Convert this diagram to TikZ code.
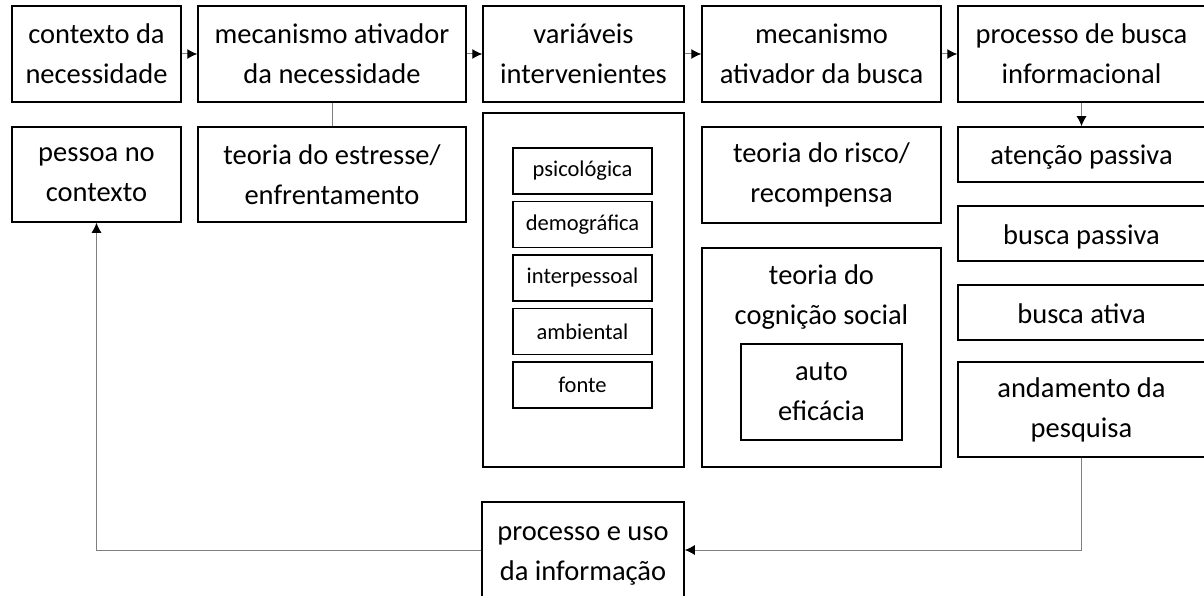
\documentclass[tikz,border=0pt]{standalone}
\usepackage{fontspec}
\setmainfont{Carlito}
\usetikzlibrary{arrows.meta,positioning}
\tikzstyle{box}=[rectangle, draw=black, line width=1.5, inner sep=2pt, align=center, font=\fontsize{28.5}{40}\selectfont]
\tikzstyle{one}=[box, text height=26pt, text depth=5pt]
\tikzstyle{sbox}=[box, minimum width=139, minimum height=46, font=\fontsize{22.5}{26}\selectfont]
\tikzstyle{txt}=[inner sep=0pt, align=center, font=\fontsize{28.5}{40}\selectfont]
\tikzstyle{l1}=[line width=1, draw=black!50]
\tikzstyle{arr}=[l1, -{Latex[length=10pt,width=10pt,black]}]
\begin{document}
\begin{tikzpicture}[x=1pt, y=-1pt]
    \useasboundingbox (0,0) rectangle (1204,596);
    % top row
    \node[box, minimum width=169, minimum height=96] at (96.5,54) (ctx) {contexto da\\necessidade};
    \node[box, minimum width=268, minimum height=96] at (332,54) (mec) {mecanismo ativador\\da necessidade};
    \node[box, minimum width=201, minimum height=96] at (583.5,54) (var) {variáveis\\intervenientes};
    \node[box, minimum width=239, minimum height=96] at (821.5,54) (mbus) {mecanismo\\ativador da busca};
    \node[box, minimum width=247, minimum height=96] at (1081.5,54) (proc) {processo de busca\\informacional};

    % second row
    \node[box, minimum width=169, minimum height=95] at (96.5,174.5) (pessoa) {pessoa no\\contexto};
    \node[box, minimum width=268, minimum height=95] at (332,174.5) (estr) {teoria do estresse/\\enfrentamento};

    \node[box, minimum width=201, minimum height=354] at (583.5,290) (varb) {};
    \node[sbox] at (582.5,171) (psi) {psicológica};
    \node[sbox] at (582.5,224.5) (dem) {demográfica};
    \node[sbox] at (582.5,278) (inter) {interpessoal};
    \node[sbox] at (582.5,331.5) (amb) {ambiental};
    \node[sbox] at (582.5,385) (fon) {fonte};

    \node[box, minimum width=239, minimum height=96] at (821.5,175) (risco) {teoria do risco/\\recompensa};
    \node[box, minimum width=239, minimum height=219] at (821.5,357.5) (cog) {};
    \node[txt, below=17pt of cog.north] (cogt) {teoria do\\cognição social};
    \node[box, minimum width=161, minimum height=96] at (821.5,392) (auto) {auto\\eficácia};

    \node[one, minimum width=247, minimum height=55] at (1081.5,154.5) (aten) {atenção passiva};
    \node[one, minimum width=247, minimum height=55] at (1081.5,233.5) (bpas) {busca passiva};
    \node[one, minimum width=247, minimum height=55] at (1081.5,312.5) (bat) {busca ativa};
    \node[box, minimum width=247, minimum height=95] at (1081.5,409.5) (anda) {andamento da\\pesquisa};

    % bottom
    \node[box, minimum width=202, minimum height=108] at (583,556) (uso) {processo e uso\\da informação};

    % connectors
    \draw[arr] (ctx) -- (mec);
    \draw[arr] (mec) -- (var);
    \draw[arr] (var) -- (mbus);
    \draw[arr] (mbus) -- (proc);
    \draw[l1] (mec) -- (estr);
    \draw[arr] (proc) -- (aten);
    \draw[arr] (anda.south) |- ([yshift=6pt]uso.east);
    \draw[arr] ([yshift=6pt]uso.west) -| (pessoa.south);
\end{tikzpicture}
\end{document}
